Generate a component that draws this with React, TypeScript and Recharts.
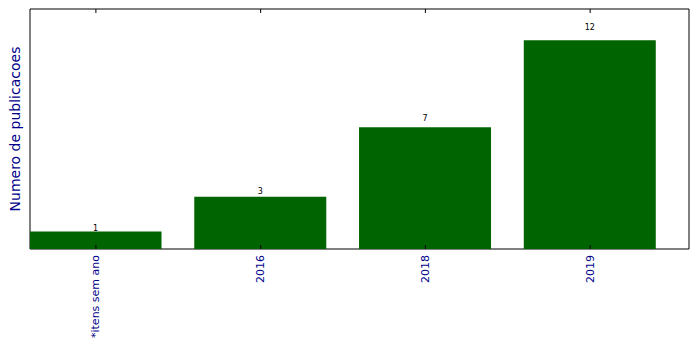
import React from 'react';
import { BarChart, Bar, XAxis, YAxis, LabelList, ReferenceArea } from 'recharts';

const categories = ['*itens sem ano', '2016', '2018', '2019'];
const publicationCounts = [1, 3, 7, 12];
const yMax = 13.8;

const data = categories.map((c, i) => ({ idx: i, name: c, value: publicationCounts[i] }));
const tickPositions = categories.map((_, i) => i);

const BLUE = '#00008B';
const FONT = 'DejaVu Sans, sans-serif';
const PLOT_TOP = 9;

const BottomTick = (props: any) => {
  const { x, y, payload } = props;
  const label = categories[payload.value] ?? '';
  return (
    <g>
      <line x1={x} x2={x} y1={y} y2={y - 4} stroke="#000" strokeWidth={1} />
      <line x1={x} x2={x} y1={PLOT_TOP} y2={PLOT_TOP + 4} stroke="#000" strokeWidth={1} />
      <text
        x={x}
        y={y + 6}
        transform={`rotate(-90, ${x}, ${y + 6})`}
        textAnchor="end"
        dominantBaseline="central"
        fill={BLUE}
        fontSize={11}
        fontFamily={FONT}
      >
        {label}
      </text>
    </g>
  );
};

const ValueLabel = (props: any) => {
  const { x, y, width, height, value } = props;
  const baseline = y - 0.05 * height;
  return (
    <text x={x + width / 2} y={baseline} textAnchor="middle" fontSize={8} fill="#000" fontFamily={FONT}>
      {value}
    </text>
  );
};

export default function App() {
  return (
    <div style={{ position: 'absolute', left: 0, top: 0, background: '#fff' }}>
      <BarChart width={699} height={349} data={data} margin={{ top: PLOT_TOP, right: 10, bottom: 0, left: 0 }}>
        <XAxis
          dataKey="idx"
          type="number"
          domain={[-0.4, 3.6]}
          ticks={tickPositions}
          allowDataOverflow
          height={100}
          axisLine={false}
          tickLine={false}
          tickSize={0}
          tickMargin={0}
          tick={<BottomTick />}
          interval={0}
        />
        <YAxis
          width={30}
          domain={[0, yMax]}
          type="number"
          tick={false}
          axisLine={false}
          tickLine={false}
          label={{
            value: 'Numero de publicacoes',
            angle: -90,
            position: 'insideLeft',
            dx: 10,
            fill: BLUE,
            fontSize: 14,
            fontFamily: FONT,
            style: { textAnchor: 'middle' },
          }}
        />
        <Bar dataKey="value" fill="#006400" barSize={132} isAnimationActive={false}>
          <LabelList dataKey="value" content={<ValueLabel />} />
        </Bar>
        <ReferenceArea x1={-0.4} x2={3.6} y1={0} y2={yMax} fill="none" stroke="#000" strokeWidth={1} ifOverflow="visible" />
      </BarChart>
    </div>
  );
}
